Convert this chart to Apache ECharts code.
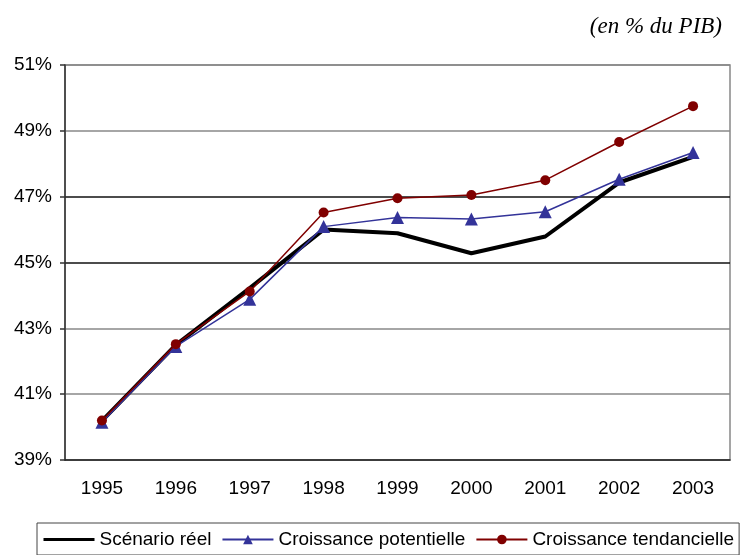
<!DOCTYPE html>
<html>
<head>
<meta charset="utf-8">
<script src="https://cdn.jsdelivr.net/npm/echarts@6/dist/echarts.min.js"></script>
<style>
  html, body { margin: 0; padding: 0; background: #fff; }
  #main { width: 741px; height: 555px; }
</style>
</head>
<body>
<div id="main"></div>
<script>
// années
const years = ['1995', '1996', '1997', '1998', '1999', '2000', '2001', '2002', '2003']
// en % du PIB
const scenarioReel = [40.19, 42.5, 44.22, 46.0, 45.89, 45.28, 45.79, 47.43, 48.21]
const croissancePotentielle = [40.15, 42.45, 43.88, 46.09, 46.37, 46.32, 46.54, 47.53, 48.34]
const croissanceTendancielle = [40.2, 42.52, 44.12, 46.52, 46.95, 47.05, 47.5, 48.66, 49.75]
const yMin = 39
const yMax = 51
const yStep = 2

const chart = echarts.init(document.getElementById('main'))
chart.setOption({
  animation: false,
  textStyle: { fontFamily: 'Liberation Sans, Arial, sans-serif' },
  title: {
    text: '(en % du PIB)',
    right: 19,
    top: 15,
    padding: 0,
    textStyle: {
      fontFamily: 'Liberation Serif, Times New Roman, serif',
      fontStyle: 'italic',
      fontWeight: 'normal',
      fontSize: 23,
      color: '#000'
    }
  },
  grid: {
    left: 65,
    right: 11,
    top: 65,
    bottom: 95,
    show: true,
    borderColor: '#888',
    borderWidth: 1.5
  },
  legend: {
    left: 37,
    top: 523,
    padding: [7, 5, 6, 5],
    itemWidth: 51,
    itemHeight: 12,
    itemGap: 10,
    borderColor: '#444',
    borderWidth: 1,
    textStyle: { fontSize: 19, color: '#000', padding: [0, 0, 0, 0] },
    data: [
      { name: 'Scénario réel', itemStyle: { opacity: 0 }, lineStyle: { width: 3 } },
      'Croissance potentielle',
      'Croissance tendancielle'
    ]
  },
  xAxis: {
    type: 'category',
    data: years,
    boundaryGap: true,
    axisLine: { lineStyle: { color: '#222', width: 1.5 } },
    axisTick: { length: 5, lineStyle: { color: '#222', width: 1.5 } },
    axisLabel: { fontSize: 19, color: '#000', margin: 19 }
  },
  yAxis: {
    type: 'value',
    min: yMin,
    max: yMax,
    interval: yStep,
    axisLine: { show: true, lineStyle: { color: '#333', width: 1.5 } },
    axisTick: { show: true, length: 5, lineStyle: { color: '#333', width: 1.5 } },
    axisLabel: { fontSize: 19, color: '#000', margin: 13, formatter: '{value}%' },
    splitLine: {
      lineStyle: {
        color: ['#888', '#888', '#888', '#111', '#111', '#888', '#888'],
        width: 1.5
      }
    }
  },
  series: [
    {
      name: 'Scénario réel',
      type: 'line',
      data: scenarioReel,
      symbol: 'none',
      z: 2,
      lineStyle: { color: '#000', width: 4 },
      itemStyle: { color: '#000' }
    },
    {
      name: 'Croissance potentielle',
      type: 'line',
      data: croissancePotentielle,
      symbol: 'triangle',
      symbolSize: 13,
      z: 3,
      lineStyle: { color: '#333399', width: 1.5 },
      itemStyle: { color: '#333399' }
    },
    {
      name: 'Croissance tendancielle',
      type: 'line',
      data: croissanceTendancielle,
      symbol: 'circle',
      symbolSize: 10,
      z: 4,
      lineStyle: { color: '#800000', width: 1.5 },
      itemStyle: { color: '#800000' }
    }
  ]
})
</script>
</body>
</html>
